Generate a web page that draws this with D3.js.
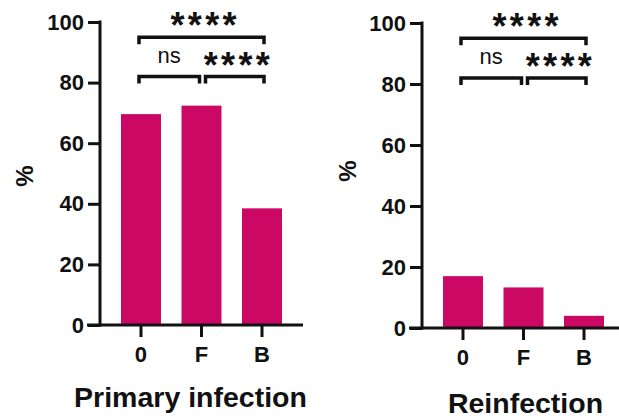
<!DOCTYPE html>
<html>
<head>
<meta charset="utf-8">
<script src="https://cdn.jsdelivr.net/npm/d3@7"></script>
<style>
  html, body { margin: 0; padding: 0; background: #fff; }
  svg { display: block; }
</style>
</head>
<body>
<svg id="chart" width="619" height="420"></svg>
<script>
// Groups shown on the x axis of both panels
const categories = ["0", "F", "B"];
// Percentage per group
const primaryValues = [69.6, 72.4, 38.5];
const reinfectionValues = [17.0, 13.3, 4.0];
// y-axis tick values
const yTicks = [0, 20, 40, 60, 80, 100];
// Pairwise comparisons (indices into categories) and their significance labels
const primaryComparisons = [
  { from: 0, to: 1, label: "ns", level: 0 },
  { from: 1, to: 2, label: "****", level: 0 },
  { from: 0, to: 2, label: "****", level: 1 }
];
const reinfectionComparisons = [
  { from: 0, to: 1, label: "ns", level: 0 },
  { from: 1, to: 2, label: "****", level: 0 },
  { from: 0, to: 2, label: "****", level: 1 }
];
const panelTitles = ["Primary infection", "Reinfection"];

const barColor = "#CB0863";
const ink = "#111";
const font = "'Liberation Sans', Arial, Helvetica, sans-serif";

const svg = d3.select("#chart");

const panels = [
  { values: primaryValues, comps: primaryComparisons, title: panelTitles[0],
    axisX: 100, y0: 325, y100: 22, tickBase: 362, titleX: 190.5, titleBase: 407,
    pctX: 24, pctY: 176 },
  { values: reinfectionValues, comps: reinfectionComparisons, title: panelTitles[1],
    axisX: 422, y0: 328, y100: 23, tickBase: 365, titleX: 525.5, titleBase: 413,
    pctX: 347, pctY: 171 }
];

panels.forEach(p => {
  const g = svg.append("g");

  const x = d3.scaleBand()
    .domain(categories)
    .range([p.axisX, p.axisX + 203])
    .paddingInner(0.339)
    .paddingOuter(0.347);

  const y = d3.scaleLinear().domain([0, 100]).range([p.y0, p.y100]);

  // bars
  g.selectAll("rect.bar")
    .data(p.values)
    .join("rect")
    .attr("class", "bar")
    .attr("x", (d, i) => x(categories[i]))
    .attr("width", x.bandwidth())
    .attr("y", d => y(d))
    .attr("height", d => y(0) - y(d))
    .attr("fill", barColor);

  // y axis
  const yAxis = d3.axisLeft(y).tickValues(yTicks).tickSize(12).tickPadding(4);
  const ya = g.append("g").attr("transform", `translate(${p.axisX},0)`).call(yAxis);
  ya.select(".domain").attr("stroke", ink).attr("stroke-width", 3)
    .attr("d", `M0,${p.y100 - 1.5}V${p.y0 + 1.5}`);
  ya.selectAll(".tick line").attr("stroke", ink).attr("stroke-width", 3);
  ya.selectAll(".tick text")
    .attr("fill", ink)
    .style("font-family", font)
    .style("font-size", "22px")
    .style("font-weight", "bold");

  // x axis
  const xAxis = d3.axisBottom(x).tickSize(12).tickPadding(0);
  const xa = g.append("g").attr("transform", `translate(0,${p.y0})`).call(xAxis);
  xa.select(".domain").attr("stroke", ink).attr("stroke-width", 3)
    .attr("d", `M${p.axisX - 13},0H${p.axisX + 203}`);
  xa.selectAll(".tick line").attr("stroke", ink).attr("stroke-width", 3);
  xa.selectAll(".tick text")
    .attr("fill", ink)
    .attr("dy", null)
    .attr("y", p.tickBase - p.y0)
    .style("font-family", font)
    .style("font-size", "22px")
    .style("font-weight", "bold");

  // y-axis label
  g.append("text")
    .attr("transform", `translate(${p.pctX},${p.pctY}) rotate(-90)`)
    .attr("text-anchor", "middle")
    .attr("dominant-baseline", "central")
    .attr("fill", ink)
    .style("font-family", font)
    .style("font-size", "24px")
    .style("font-weight", "bold")
    .text("%");

  // panel title
  g.append("text")
    .attr("x", p.titleX)
    .attr("y", p.titleBase)
    .attr("text-anchor", "middle")
    .attr("fill", ink)
    .style("font-family", font)
    .style("font-size", "28.5px")
    .style("font-weight", "bold")
    .text(p.title);

  // significance brackets
  const levelY = lvl => y(82 + lvl * 13);
  p.comps.forEach(c => {
    const cx1 = x(categories[c.from]) + x.bandwidth() / 2;
    const cx2 = x(categories[c.to]) + x.bandwidth() / 2;
    // split adjacent brackets sharing a middle group
    const x1 = cx1 - 2 + (c.level === 0 && c.from === 1 ? 6 : 0);
    const x2 = cx2 + 2 - (c.level === 0 && c.to === 1 ? 4 : 0);
    const by = levelY(c.level);
    g.append("path")
      .attr("d", `M${x1},${by + 7}V${by}H${x2}V${by + 7}`)
      .attr("fill", "none")
      .attr("stroke", ink)
      .attr("stroke-width", 3.5);

    const isNs = c.label === "ns";
    const mid = (x1 + x2) / 2 + (isNs ? 0 : 2);
    const t = g.append("text")
      .attr("y", isNs ? by - 14 : by + 1)
      .attr("fill", ink)
      .style("font-family", font)
      .style("font-size", isNs ? "22px" : "36px")
      .style("font-weight", isNs ? "normal" : "bold")
      .text(c.label);
    if (isNs) {
      t.attr("x", mid).attr("text-anchor", "middle");
    } else {
      const w = 66;
      t.attr("x", mid - w / 2)
        .attr("textLength", w)
        .attr("lengthAdjust", "spacing");
    }
  });
});
</script>
</body>
</html>
